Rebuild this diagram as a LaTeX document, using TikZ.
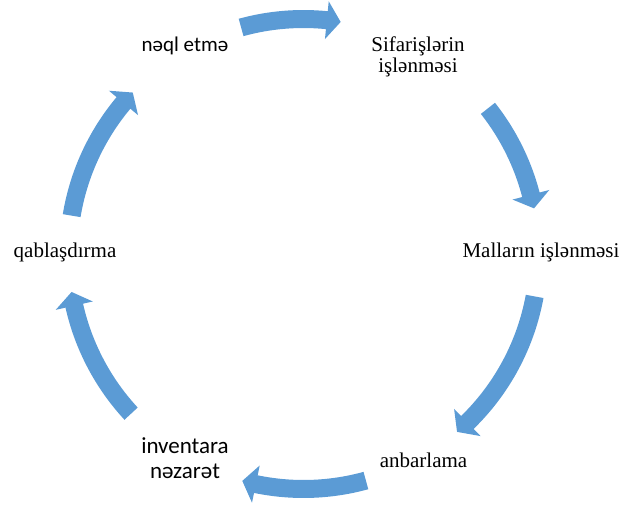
\documentclass[tikz,border=0pt]{standalone}
\usepackage{fontspec}
\setmainfont{Liberation Serif}
\newfontfamily\calfont{Carlito}
\definecolor{arrowblue}{HTML}{5B9BD5}
\tikzset{
  arrowfill/.style={fill=arrowblue},
  serlabel/.style={font=\fontsize{21}{21}\selectfont, align=center, inner sep=0pt, anchor=base},
  sanlabel/.style={font=\calfont\fontsize{21}{25}\selectfont, align=center, inner sep=0pt, anchor=base},
  sanlabelbig/.style={font=\calfont\fontsize{23}{25}\selectfont, align=center, inner sep=0pt, anchor=base}
}
% #1 tail angle, #2 tip angle (clockwise arc arrow around the scope origin)
\newcommand{\cycarrow}[2]{%
  \pgfmathsetmacro\hbk{#2+3.4}%
  \fill[arrowfill] (#1:244) arc[start angle=#1, end angle=\hbk, radius=244]
    -- (\hbk:254) -- (#2:235) -- (\hbk:216) -- (\hbk:226)
    arc[start angle=\hbk, end angle=#1, radius=226] -- cycle;}
\begin{document}
\begin{tikzpicture}[x=1pt,y=1pt]
\useasboundingbox (0,0) rectangle (621,504);
\node[sanlabel] (naql) at (185,452) {nəql etmə};
\node[serlabel] (sif) at (418,431) {Sifarişlərin\\işlənməsi};
\node[serlabel] (mal) at (541,247) {Malların işlənməsi};
\node[serlabel] (anb) at (423.5,37) {anbarlama};
\node[sanlabelbig] (inv) at (185,26) {inventara\\nəzarət};
\node[serlabel] (qab) at (65,246) {qablaşdırma};
\begin{scope}[shift={(303.5,250)}]
  \cycarrow{105.4}{80.9}
  \cycarrow{38.3}{11.2}
  \cycarrow{-10.4}{-49.2}
  \cycarrow{-74.6}{-105.1}
  \cycarrow{-137.2}{-170.7}
  \cycarrow{170.6}{136.6}
\end{scope}
\end{tikzpicture}
\end{document}
